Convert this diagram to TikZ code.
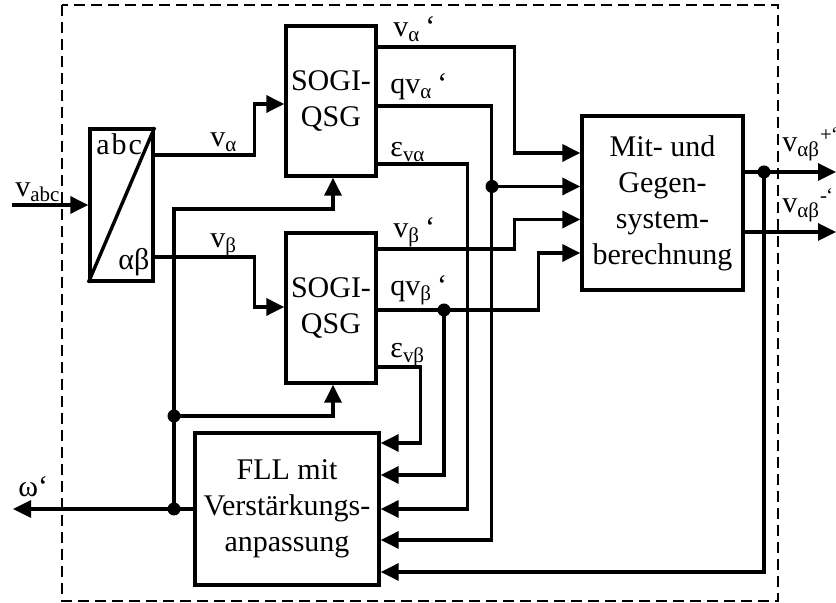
\documentclass[tikz,border=0pt]{standalone}
\usepackage{fontspec}
\setmainfont{Liberation Serif}
\usetikzlibrary{positioning, arrows.meta, calc}

\begin{document}
\begin{tikzpicture}[x=0.5pt, y=-0.5pt,
    block/.style={draw=black, line width=1.7pt, rectangle, inner sep=0pt, align=center, font=\fontsize{15}{18}\selectfont},
    edge/.style={line width=1.7pt},
    sig/.style={edge, -{Triangle[length=9pt, width=8.5pt]}},
    varlabel/.style={anchor=base west, inner sep=0pt, font=\fontsize{15}{18}\selectfont},
    dot/.style={circle, fill=black, inner sep=0pt, minimum size=6.5pt},
    frame/.style={draw=black, line width=0.7pt, dash pattern=on 5.5pt off 3pt}
  ]

  \useasboundingbox (0,0) rectangle (836,603);
  \draw[frame] (62,5) rectangle (778,601);

  % Knoten
  \node[block, minimum width=31.5pt, minimum height=76pt] (trafo) at (121.5,205) {};
  \node[block, minimum width=45pt, minimum height=75pt] (sogiA) at (331,101) {SOGI-\\QSG};
  \node[block, minimum width=45pt, minimum height=75pt] (sogiB) at (331,308) {SOGI-\\QSG};
  \node[block, minimum width=80.5pt, minimum height=87pt] (mit) at (662.5,203) {Mit- und\\Gegen-\\system-\\berechnung};
  \node[block, minimum width=92pt, minimum height=76pt] (fll) at (287,509) {FLL mit\\Verstärkungs-\\anpassung};

  \draw[edge] (trafo.south west) -- (trafo.north east);
  \node[varlabel] (labc) at (96,155) {a\kern1pt b\kern1pt c};
  \node[varlabel] (lab) at (118,270) {αβ};

  \coordinate (vin) at (12,205);
  \coordinate (wout) at (13,509);
  \coordinate (pout) at (836,172);
  \coordinate (nout) at (836,232);

  \node[dot] (jA) at (174,509) {};
  \node[dot] (jB) at (174,416) {};
  \node[dot] (jC) at (492,186.5) {};
  \node[dot] (jD) at (444,310) {};
  \node[dot] (jE) at (764,172) {};

  % Kanten zwischen Knoten
  \draw[sig] (vin) -- (trafo.west);
  \draw[sig] ([yshift=25pt]trafo.east) -- ++(100,0) |- ([yshift=-1.5pt]sogiA.west);
  \draw[sig] ([yshift=-26pt]trafo.east) -- ++(100,0) |- ([yshift=0.5pt]sogiB.west);
  \draw[sig] (fll.west) -- (wout);
  \draw[sig] (jA.center) -- ++(0,-300) -| ([xshift=1pt]sogiA.south);
  \draw[sig] (jB.center) -| ([xshift=1pt]sogiB.south);

  \draw[sig] ([yshift=27pt]sogiA.east) -- ++(137,0) |- ([yshift=25pt]mit.west);
  \draw[sig] ([yshift=-2.5pt]sogiA.east) -- ++(114,0) |- ([yshift=-15.5pt]fll.east);
  \draw[sig] (jC.center) -- (jC -| mit.west);
  \draw[sig] ([yshift=-31.5pt]sogiA.east) -- ++(90,0) |- (fll.east);

  \draw[sig] ([yshift=29.5pt]sogiB.east) -- ++(137,0) |- ([yshift=-8.25pt]mit.west);
  \draw[sig] ([yshift=-1pt]sogiB.east) -- ++(161,0) |- ([yshift=-25pt]mit.west);
  \draw[sig] (jD.center) |- ([yshift=17pt]fll.east);
  \draw[sig] ([yshift=-29.5pt]sogiB.east) -- ++(43,0) |- ([yshift=33pt]fll.east);

  \draw[sig] ([yshift=15.5pt]mit.east) -- (pout);
  \draw[sig] ([yshift=-14.5pt]mit.east) -- (nout);
  \draw[sig] (jE.center) |- ([yshift=-31.5pt]fll.east);

  % Beschriftungen
  \node[varlabel] (lvabc) at (15,197) {v\textsubscript{abc}};
  \node[varlabel] (lva) at (210,147) {v\textsubscript{α}};
  \node[varlabel] (lvb) at (210,248) {v\textsubscript{β}};
  \node[varlabel] (lvas) at (393,37) {v\textsubscript{α}\,‘};
  \node[varlabel] (lqva) at (390,94) {qv\textsubscript{α}\,‘};
  \node[varlabel] (lea) at (390,157) {ε\textsubscript{vα}};
  \node[varlabel] (lvbs) at (393,238) {v\textsubscript{β}\,‘};
  \node[varlabel] (lqvb) at (390,296) {qv\textsubscript{β}\,‘};
  \node[varlabel] (leb) at (390,358) {ε\textsubscript{vβ}};
  \node[varlabel] (lw) at (18,497) {ω‘};
  \node[varlabel] (lpos) at (782,152) {v\textsubscript{αβ}\textsuperscript{+\kern-0.5pt‘}};
  \node[varlabel] (lneg) at (782,213) {v\textsubscript{αβ}\textsuperscript{-\kern-0.5pt‘}};
\end{tikzpicture}
\end{document}
